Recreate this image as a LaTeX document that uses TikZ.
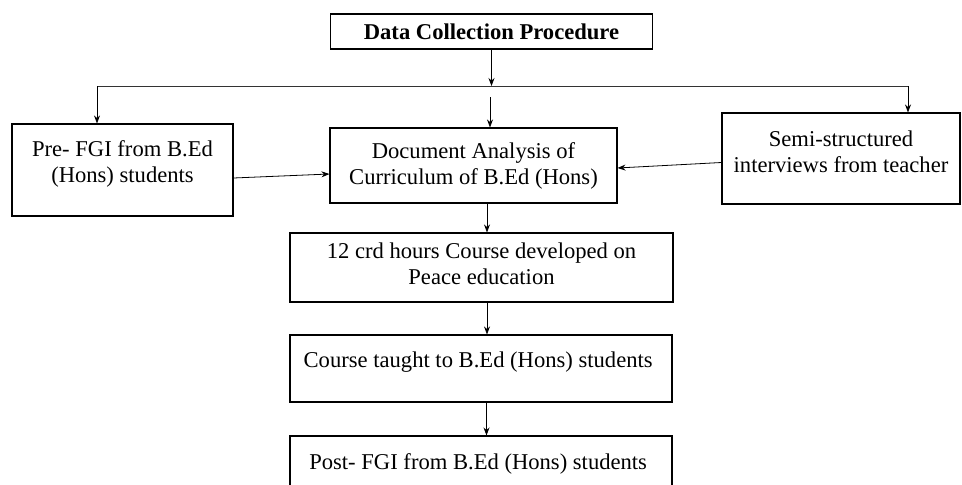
\documentclass[tikz,border=0pt]{standalone}
\usepackage{fontspec}
\setmainfont{Liberation Serif}
\usetikzlibrary{arrows.meta, positioning, calc}

\begin{document}
\begin{tikzpicture}[
    x=1pt, y=-1pt,
    >={Stealth[length=8pt, width=6pt]},
    font=\fontsize{22.6}{26}\selectfont,
    stage/.style={
        rectangle, draw=black, line width=1.1pt, align=center, inner sep=0pt
    },
    head/.style={stage, font=\fontsize{22.6}{26}\selectfont\bfseries},
    lifted/.style={text depth=#1},
    link/.style={draw=black, line width=0.8pt, ->}
]

    % Page frame (bottom box runs off the page)
    \clip (0,0) rectangle (962,485);

    % Top: title box
    \node[head, minimum width=322pt, minimum height=35pt] (title) at (491.5, 31.5) {Data Collection Procedure};

    % Branch line
    \coordinate (brL) at (97, 86);
    \coordinate (brR) at (908, 86);
    \coordinate (brM) at (490, 97);

    % Row of three sources
    \node[stage, lifted=17pt, minimum width=221pt, minimum height=92pt] (pre) at (122.5, 170) {
        Pre- FGI from B.Ed \\
        (Hons) students
    };

    \node[stage, minimum width=287pt, minimum height=75pt] (doc) at (473.5, 165.5) {
        Document Analysis of \\
        Curriculum of B.Ed (Hons)
    };

    \node[stage, lifted=14pt, minimum width=238pt, minimum height=91pt] (semi) at (841, 158.5) {
        Semi-structured \\
        interviews from teacher
    };

    % Middle column
    \node[stage, lifted=7pt, minimum width=383pt, minimum height=69pt] (crd) at (481.5, 267.5) {
        12 crd hours Course developed on \\
        Peace education
    };

    \node[stage, lifted=17pt, minimum width=382pt, minimum height=67pt] (taught) at (481, 368.5) {
        Course taught to B.Ed (Hons) students
    };

    \node[stage, minimum width=382pt, minimum height=56pt] (post) at (481, 464) {
        Post- FGI from B.Ed (Hons) students
    };

    % --- Connections ---

    % Title down to the branch line
    \draw[link] (title.south) -- (title.south |- brL);
    \draw[line width=0.8pt, draw=black!80] (brL) -- (brR);

    % Branch line down to the three sources
    \draw[link] (brL) -- (brL |- pre.north);
    \draw[link] (brM) -- (brM |- doc.north);
    \draw[link] (brR) -- (brR |- semi.north);

    % Side sources into document analysis
    \draw[link] ([yshift=-8pt]pre.east) -- ([yshift=-8.5pt]doc.west);
    \draw[link] ([yshift=-4pt]semi.west) -- ([yshift=-2.5pt]doc.east);

    % Down the middle column
    \draw[link] ([xshift=5.5pt]crd.north |- doc.south) -- ([xshift=5.5pt]crd.north);
    \draw[link] ([xshift=5.5pt]crd.south) -- ([xshift=5.5pt]crd.south |- taught.north);
    \draw[link] ([xshift=5.5pt]taught.south) -- ([xshift=5.5pt]taught.south |- post.north);

\end{tikzpicture}
\end{document}
